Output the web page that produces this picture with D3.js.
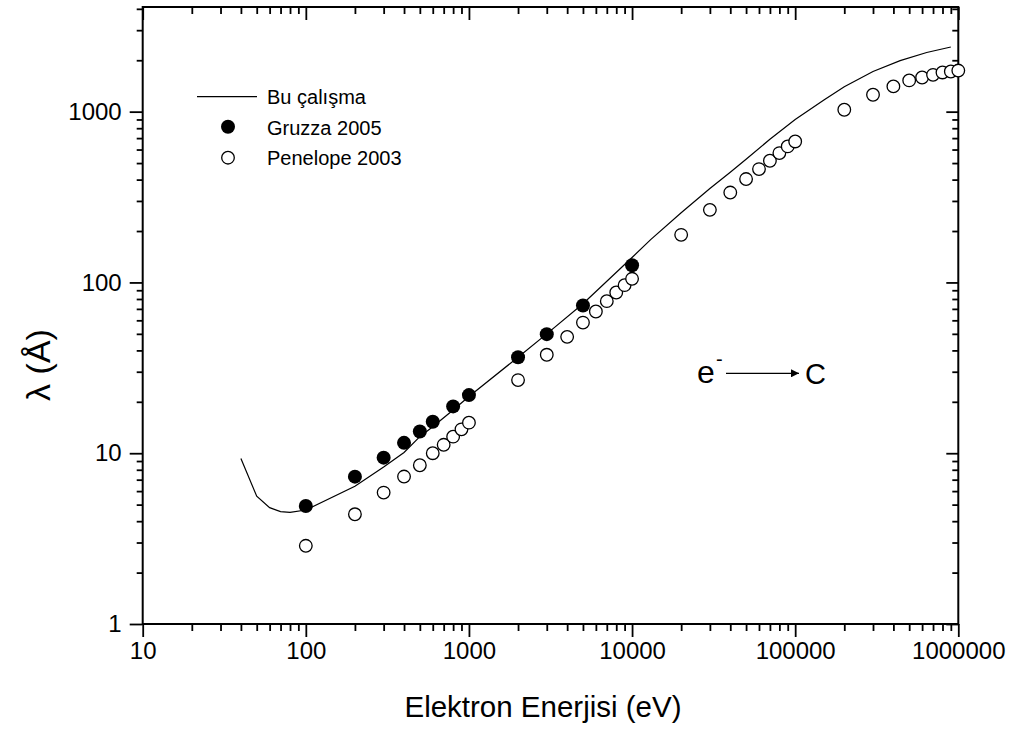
<!DOCTYPE html>
<html>
<head>
<meta charset="utf-8">
<script src="https://cdn.jsdelivr.net/npm/d3@7"></script>
<style>
  body { margin: 0; background: #fff; }
  text { font-family: 'Liberation Sans', Arial, sans-serif; fill: #000; }
</style>
</head>
<body>
<div id="chart"></div>
<script>
// Bu çalışma (line)
const calcE = [40, 50, 60, 70, 80, 100, 200, 300, 400, 500, 600, 800, 1000, 2000, 3000, 5000, 10000, 13000, 20000, 30000, 40000, 50000, 70000, 100000, 150000, 200000, 300000, 440000, 640000, 900000]
const calcL = [9.3, 5.6, 4.8, 4.55, 4.5, 4.65, 6.4, 8.3, 10.1, 12.5, 14.3, 17.9, 21.5, 36.5, 50, 75, 140, 178, 256, 355, 442, 526, 690, 900, 1170, 1400, 1720, 1990, 2220, 2390]

// Gruzza 2005 (filled)
const gruzzaE = [100, 200, 300, 400, 500, 600, 800, 1000, 2000, 3000, 5000, 10000]
const gruzzaL = [4.91, 7.29, 9.42, 11.5, 13.4, 15.3, 18.8, 21.9, 36.5, 49.8, 73.3, 126]

// Penelope 2003 (open)
const penE = [100, 200, 300, 400, 500, 600, 700, 800, 900, 1000, 2000, 3000, 4000, 5000, 6000, 7000, 8000, 9000, 10000,
  20000, 30000, 40000, 50000, 60000, 70000, 80000, 90000, 100000, 200000, 300000, 400000, 500000, 600000, 700000, 800000, 900000, 1000000]
const penL = [2.87, 4.39, 5.88, 7.3, 8.5, 10, 11.2, 12.5, 13.8, 15.1, 26.8, 37.7, 48, 58.2, 67.6, 77.7, 87.3, 96.4, 105,
  190, 266, 336, 403, 461, 516, 572, 626, 669, 1026, 1256, 1406, 1524, 1585, 1643, 1696, 1718, 1740]

const xTicks = [10, 100, 1000, 10000, 100000, 1000000]
const yTicks = [1, 10, 100, 1000]

const W = 1015, H = 743
const mLeft = 142.7, mRight = 958.3, mTop = 7, mBottom = 624

const svg = d3.select('#chart').append('svg').attr('width', W).attr('height', H)

const x = d3.scaleLog().domain([10, 1000000]).range([mLeft, mRight])
const y = d3.scaleLog().domain([1, 4100]).range([mBottom, mTop])

function minorTicks (scale) {
  let [a, b] = scale.domain(), out = []
  for (let p = Math.floor(Math.log10(a)); p <= Math.ceil(Math.log10(b)); p++) {
    for (let m = 2; m <= 9; m++) {
      let v = m * Math.pow(10, p)
      if (v > a && v < b) out.push(v)
    }
  }
  return out
}

const fmt = d => String(d)

// bottom axis (outward)
svg.append('g').attr('transform', `translate(0,${mBottom})`)
  .call(d3.axisBottom(x).tickValues(xTicks).tickFormat(fmt).tickSizeOuter(0).tickSize(13).tickPadding(5))
svg.append('g').attr('transform', `translate(0,${mBottom})`)
  .call(d3.axisBottom(x).tickValues(minorTicks(x)).tickFormat('').tickSizeOuter(0).tickSize(7))
// top axis (inward)
svg.append('g').attr('transform', `translate(0,${mTop})`)
  .call(d3.axisBottom(x).tickValues(xTicks).tickFormat('').tickSizeOuter(0).tickSize(13))
svg.append('g').attr('transform', `translate(0,${mTop})`)
  .call(d3.axisBottom(x).tickValues(minorTicks(x)).tickFormat('').tickSizeOuter(0).tickSize(7))
// left axis (outward)
svg.append('g').attr('transform', `translate(${mLeft},0)`)
  .call(d3.axisLeft(y).tickValues(yTicks).tickFormat(fmt).tickSizeOuter(0).tickSize(13).tickPadding(8))
svg.append('g').attr('transform', `translate(${mLeft},0)`)
  .call(d3.axisLeft(y).tickValues(minorTicks(y)).tickFormat('').tickSizeOuter(0).tickSize(6))
// right axis (inward)
svg.append('g').attr('transform', `translate(${mRight},0)`)
  .call(d3.axisLeft(y).tickValues(yTicks).tickFormat('').tickSizeOuter(0).tickSize(12))
svg.append('g').attr('transform', `translate(${mRight},0)`)
  .call(d3.axisLeft(y).tickValues(minorTicks(y)).tickFormat('').tickSizeOuter(0).tickSize(6))

svg.selectAll('.domain').remove()
svg.selectAll('.tick line').attr('stroke', '#000').attr('stroke-width', 1.8)
svg.selectAll('.tick text').attr('font-size', 24).attr('font-family', "'Liberation Sans', Arial, sans-serif").attr('fill', '#000')

// frame
svg.append('rect').attr('x', mLeft).attr('y', mTop).attr('width', mRight - mLeft).attr('height', mBottom - mTop)
  .attr('fill', 'none').attr('stroke', '#000').attr('stroke-width', 2)

// line
const line = d3.line().x(d => x(d[0])).y(d => y(d[1]))
svg.append('path').datum(calcE.map((e, i) => [e, calcL[i]]))
  .attr('d', line).attr('fill', 'none').attr('stroke', '#000').attr('stroke-width', 1.2)

// open circles
svg.append('g').selectAll('circle').data(penE.map((e, i) => [e, penL[i]])).enter().append('circle')
  .attr('cx', d => x(d[0])).attr('cy', d => y(d[1])).attr('r', 6.3)
  .attr('fill', '#fff').attr('stroke', '#000').attr('stroke-width', 1.3)

// filled circles
svg.append('g').selectAll('circle').data(gruzzaE.map((e, i) => [e, gruzzaL[i]])).enter().append('circle')
  .attr('cx', d => x(d[0])).attr('cy', d => y(d[1])).attr('r', 7).attr('fill', '#000')

// legend
let lg = svg.append('g')
lg.append('line').attr('x1', 197).attr('x2', 257).attr('y1', 96.7).attr('y2', 96.7).attr('stroke', '#000').attr('stroke-width', 1.2)
lg.append('circle').attr('cx', 228).attr('cy', 126.7).attr('r', 7).attr('fill', '#000')
lg.append('circle').attr('cx', 228).attr('cy', 157.7).attr('r', 6.3).attr('fill', '#fff').attr('stroke', '#000').attr('stroke-width', 1.3)
lg.selectAll('text').data(['Bu çalışma', 'Gruzza 2005', 'Penelope 2003']).enter().append('text')
  .attr('x', 267).attr('y', (d, i) => 104 + i * 30.5).attr('font-size', 20).text(d => d)

// annotation e- -> C
svg.append('defs').append('marker').attr('id', 'arr').attr('viewBox', '0 0 10 10')
  .attr('refX', 10).attr('refY', 5).attr('markerWidth', 11).attr('markerHeight', 8)
  .attr('markerUnits', 'userSpaceOnUse').attr('orient', 'auto')
  .append('path').attr('d', 'M0,0 L10,5 L0,10 Z').attr('fill', '#000')
svg.append('text').attr('x', 697).attr('y', 383).attr('font-size', 32).text('e')
svg.append('text').attr('x', 716).attr('y', 366).attr('font-size', 20).text('-')
svg.append('line').attr('x1', 726).attr('x2', 799).attr('y1', 373.3).attr('y2', 373.3)
  .attr('stroke', '#000').attr('stroke-width', 1.3).attr('marker-end', 'url(#arr)')
svg.append('text').attr('x', 805).attr('y', 384).attr('font-size', 29).text('C')

// axis titles
svg.append('text').attr('x', 543).attr('y', 717).attr('text-anchor', 'middle').attr('font-size', 29.5)
  .text('Elektron Enerjisi (eV)')
svg.append('text').attr('transform', 'translate(50,365) rotate(-90)').attr('text-anchor', 'middle')
  .attr('font-size', 34).text('λ (Å)')
</script>
</body>
</html>
